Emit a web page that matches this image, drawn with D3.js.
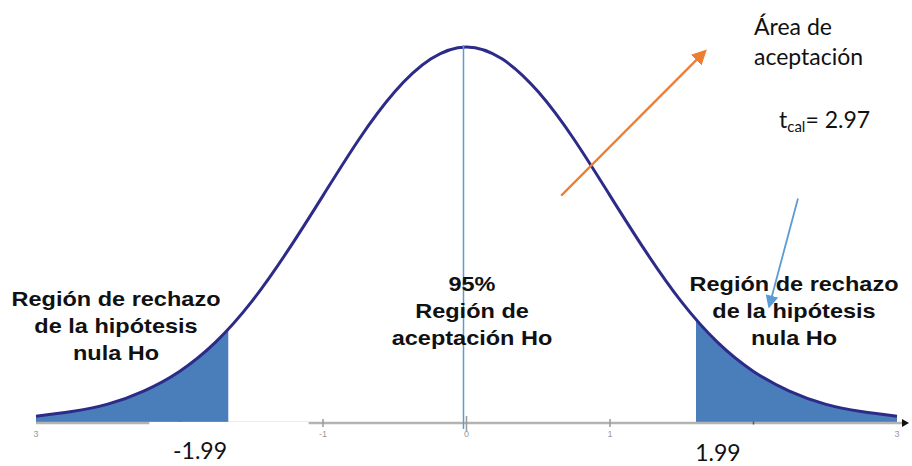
<!DOCTYPE html>
<html>
<head>
<meta charset="utf-8">
<script src="https://cdn.jsdelivr.net/npm/d3@7"></script>
<style>
  body { margin: 0; background: #fff; }
  svg { display: block; }
</style>
</head>
<body>
<div id="chart"></div>
<script>
/* Two-tailed t test: acceptance region and rejection tails. */

const height = 466,
    width = 912;

// curve (z, density)
const zValues = [-3, -2.75, -2.5, -2.25, -2, -1.75, -1.5, -1.25, -1, -0.75, -0.5, -0.25, 0,
                 0.25, 0.5, 0.75, 1, 1.25, 1.5, 1.75, 2, 2.25, 2.5, 2.75, 3];
const density = [0.004, 0.009, 0.017, 0.031, 0.052, 0.083, 0.126, 0.180, 0.240, 0.300, 0.351, 0.386, 0.399,
                 0.386, 0.351, 0.300, 0.240, 0.180, 0.126, 0.083, 0.052, 0.031, 0.017, 0.009, 0.004];

// shaded tails (where the blue fill ends on the picture)
const leftCut = -1.66,
    rightCut = 1.6;

const tickValues = [-3, -2, -1, 0, 1, 2, 3];
const tickLabels = { "-3": "3", "-1": "-1", "0": "0", "1": "1", "3": "3" };

const critLabels = ["-1.99", "1.99"];

const svg = d3.select("#chart")
    .append("svg")
    .attr("width", width)
    .attr("height", height)
    .attr("viewBox", [0, 0, width, height]);

let x = d3.scaleLinear()
    .domain([-3, 3])
    .range([36, 897]);

let y = d3.scaleLinear()
    .domain([0, 0.4])
    .range([420, 46]);

let data = zValues.map((z, i) => ({ z: z, d: density[i] }));

// markers for the arrows
const defs = svg.append("defs");
function marker(id, color, size) {
  defs.append("marker")
    .attr("id", id)
    .attr("viewBox", "0 0 10 10")
    .attr("refX", 8)
    .attr("refY", 5)
    .attr("markerWidth", size)
    .attr("markerHeight", size)
    .attr("markerUnits", "userSpaceOnUse")
    .attr("orient", "auto")
    .append("path")
    .attr("d", "M0,0 L10,5 L0,10 z")
    .attr("fill", color);
}
marker("arrOrange", "#ed7d31", 15);
marker("arrBlue", "#5b9bd5", 13);

let axisY = y(0) + 3;

// clip areas for the two tails
defs.append("clipPath").attr("id", "leftTail")
  .append("rect")
  .attr("x", x(-3) - 5).attr("y", 0)
  .attr("width", x(leftCut) - x(-3) + 5).attr("height", height);

defs.append("clipPath").attr("id", "rightTail")
  .append("rect")
  .attr("x", x(rightCut)).attr("y", 0)
  .attr("width", x(3) - x(rightCut) + 5).attr("height", height);

let area = d3.area()
  .x(d => x(d.z))
  .y0(axisY - 1)
  .y1(d => y(d.d))
  .curve(d3.curveNatural);

["leftTail", "rightTail"].forEach(id => {
  svg.append("path")
    .datum(data)
    .attr("d", area)
    .attr("fill", "#4a7ebb")
    .attr("clip-path", `url(#${id})`);
});

// axis line
svg.append("line")
  .attr("x1", x(-3))
  .attr("x2", x(3) + 8)
  .attr("y1", axisY)
  .attr("y2", axisY)
  .attr("stroke", "#b3b3b3")
  .attr("stroke-width", 2.5);

svg.append("path")
  .attr("d", `M${x(3) + 5},${axisY - 4} L${x(3) + 12},${axisY} L${x(3) + 5},${axisY + 4} z`)
  .attr("fill", "#111");

svg.selectAll(".tick")
  .data(tickValues.filter(t => Math.abs(t) < 3))
  .join("line")
  .attr("class", "tick")
  .attr("x1", d => x(d))
  .attr("x2", d => x(d))
  .attr("y1", d => axisY - (d === 0 ? 7 : Math.abs(d) === 2 ? 1.5 : 4))
  .attr("y2", d => axisY + (d === 0 ? 8 : Math.abs(d) === 2 ? 1.5 : 4))
  .attr("stroke", d => Math.abs(d) === 2 ? "#555" : "#9a9a9a")
  .attr("stroke-width", 1.5);

svg.selectAll(".tick-label")
  .data(tickValues.filter(t => tickLabels[t] !== undefined))
  .join("text")
  .attr("class", "tick-label")
  .attr("x", d => x(d))
  .attr("y", axisY + 14)
  .attr("text-anchor", "middle")
  .attr("font-family", "Liberation Sans, Arial, sans-serif")
  .attr("font-size", 9)
  .attr("fill", "#999")
  .text(d => tickLabels[d]);

// the white patch behind the -1.99 label hides part of the axis
svg.append("rect")
  .attr("x", x(-2.21))
  .attr("y", axisY - 1)
  .attr("width", x(-1.1) - x(-2.21))
  .attr("height", 12)
  .attr("fill", "#fff");

// the curve itself
let line = d3.line()
  .x(d => x(d.z))
  .y(d => y(d.d))
  .curve(d3.curveNatural);

svg.append("path")
  .datum(data)
  .attr("d", line)
  .attr("fill", "none")
  .attr("stroke", "#2d2b88")
  .attr("stroke-width", 3)
  .attr("stroke-linejoin", "round");

// mean line
svg.append("line")
  .attr("x1", x(0) - 3)
  .attr("x2", x(0) - 3)
  .attr("y1", y(0.4) - 1)
  .attr("y2", axisY + 6)
  .attr("stroke", "#5b9bd5")
  .attr("stroke-width", 1.5);

// bold labels
function boldBlock(cx, y0, lines) {
  let g = svg.append("g")
    .attr("transform", `translate(${cx},${y0}) scale(1.12,1)`);
  lines.forEach((t, i) => {
    g.append("text")
      .attr("x", 0)
      .attr("y", i * 27)
      .attr("text-anchor", "middle")
      .attr("font-family", "Liberation Sans, Arial, sans-serif")
      .attr("font-weight", "bold")
      .attr("font-size", 21)
      .attr("fill", "#111")
      .text(t);
  });
}
boldBlock(116, 306, ["Región de rechazo", "de la hipótesis", "nula Ho"]);
boldBlock(472, 291, ["95%", "Región de", "aceptación Ho"]);
boldBlock(794, 291, ["Región de rechazo", "de la hipótesis", "nula Ho"]);

// arrows
svg.append("line")
  .attr("x1", x(0.66)).attr("y1", y(0.240))
  .attr("x2", x(1.66)).attr("y2", y(0.394))
  .attr("stroke", "#ed7d31")
  .attr("stroke-width", 2.2)
  .attr("marker-end", "url(#arrOrange)");

svg.append("line")
  .attr("x1", x(2.31)).attr("y1", y(0.237))
  .attr("x2", x(2.11)).attr("y2", y(0.122))
  .attr("stroke", "#5b9bd5")
  .attr("stroke-width", 1.8)
  .attr("marker-end", "url(#arrBlue)");

// regular annotation text
const plain = "Lato, 'Open Sans', sans-serif";
svg.append("text")
  .attr("x", 754).attr("y", 35)
  .attr("font-family", plain).attr("font-size", 23).attr("fill", "#111")
  .text("Área de");
svg.append("text")
  .attr("x", 754).attr("y", 65)
  .attr("font-family", plain).attr("font-size", 23).attr("fill", "#111")
  .text("aceptación");

let tcal = svg.append("text")
  .attr("x", 779).attr("y", 128)
  .attr("font-family", plain).attr("font-size", 23).attr("fill", "#111");
tcal.append("tspan").text("t");
tcal.append("tspan").attr("font-size", 15).attr("dy", 4).text("cal");
tcal.append("tspan").attr("dy", -4).text("= 2.97");

svg.selectAll(".crit")
  .data(critLabels)
  .join("text")
  .attr("class", "crit")
  .attr("x", (d, i) => i === 0 ? 200 : 718)
  .attr("y", (d, i) => i === 0 ? 459 : 461)
  .attr("text-anchor", "middle")
  .attr("font-family", plain)
  .attr("font-size", 23)
  .attr("fill", "#111")
  .text(d => d);
</script>
</body>
</html>
